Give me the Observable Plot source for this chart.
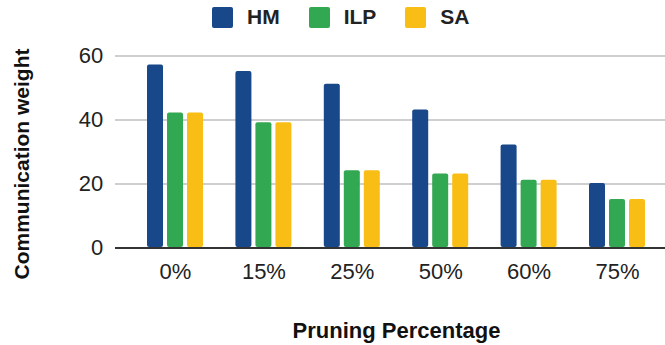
<!DOCTYPE html>
<html>
<head>
<meta charset="utf-8">
<script src="https://cdn.jsdelivr.net/npm/d3@7"></script>
<script src="https://cdn.jsdelivr.net/npm/@observablehq/plot@0.6"></script>
<style>
  body { margin: 0; background: #fff; }
  #chart { position: relative; width: 665px; height: 345px; font-family: "Liberation Sans", Arial, sans-serif; }
  #plot { position: absolute; left: 0; top: 0; }
  #legend { position: absolute; left: 212px; top: 5px; }
  #legend .lg-swatches { font-family: "Liberation Sans", Arial, sans-serif; font-size: 21px; font-weight: bold; color: #222; margin: 0; min-height: 0; }
  #legend .lg-swatch { margin-right: 29px; }
  #legend .lg-swatch > svg { margin-right: 14px; }
  #legend .lg-swatch rect { rx: 2px; }
</style>
</head>
<body>
<div id="chart"><div id="plot"></div><div id="legend"></div></div>
<script>
// Communication weight per pruning percentage, for three mapping methods
const categories = ["0%", "15%", "25%", "50%", "60%", "75%"];
const series = ["HM", "ILP", "SA"];
const hm = [57, 55, 51, 43, 32, 20];
const ilp = [42, 39, 24, 23, 21, 15];
const sa = [42, 39, 24, 23, 21, 15];
const colors = ["#18478a", "#33a852", "#f9be15"];
const yTicks = [0, 20, 40, 60];
const xTitle = "Pruning Percentage";
const yTitle = "Communication weight";

const bySeries = {HM: hm, ILP: ilp, SA: sa};
const rows = categories.flatMap((category, i) =>
  series.map((s) => ({category, series: s, value: bySeries[s][i]}))
);

const chart = Plot.plot({
  width: 665,
  height: 345,
  marginLeft: 115,
  marginRight: 0,
  marginTop: 55,
  marginBottom: 98,
  style: {fontFamily: "Liberation Sans, Arial, sans-serif", fontSize: "22px", color: "#222", background: "#fff"},
  fx: {domain: categories, paddingInner: 0, paddingOuter: 0.111, align: 0.806, round: false, label: null, axis: "bottom", tickSize: 0, tickPadding: 16},
  x: {domain: series, paddingInner: 0.2, paddingOuter: 0.81, round: false, axis: null},
  y: {domain: [0, 60], axis: null},
  color: {domain: series, range: colors},
  marks: [
    // grid lines run through every facet band and past the outer ones
    Plot.ruleY(yTicks.filter((d) => d > 0), {stroke: "#cfcfcf", strokeWidth: 2, insetLeft: -16, insetRight: -4, shapeRendering: "crispEdges"}),
    Plot.barY(rows, {fx: "category", x: "series", y: "value", fill: "series", rx: 2}),
    Plot.ruleY([0], {stroke: "#333", strokeWidth: 2, insetLeft: -16, insetRight: -4, shapeRendering: "crispEdges"}),
    Plot.axisY(yTicks, {tickSize: 0, tickPadding: 28, label: null, fontSize: 22}),
    Plot.text([yTitle], {text: (d) => d, facet: "super", frameAnchor: "left", textAnchor: "middle", rotate: -90, dx: -109, dy: 12.5, lineAnchor: "middle", fontWeight: "bold", fontSize: 21, fill: "#111"}),
    Plot.text([xTitle], {text: (d) => d, facet: "super", frameAnchor: "bottom", textAnchor: "middle", dx: 0, dy: 83, lineAnchor: "middle", fontWeight: "bold", fontSize: 22, fill: "#111"})
  ]
});
document.getElementById("plot").append(chart);

const legend = Plot.legend({
  color: {domain: series, range: colors},
  swatchSize: 21,
  className: "lg"
});
document.getElementById("legend").append(legend);
</script>
</body>
</html>
